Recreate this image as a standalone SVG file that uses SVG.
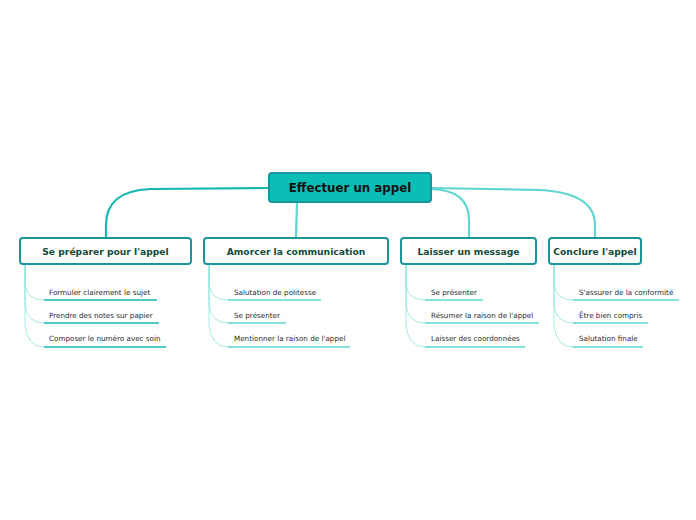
<svg xmlns="http://www.w3.org/2000/svg" width="696" height="520" viewBox="0 0 696 520">
<style>
.root{fill:#0bbdb5;stroke:#1a959b;stroke-width:2}
.main{fill:#fff;stroke:#1a959b;stroke-width:2}
.rt{font-family:"DejaVu Sans",sans-serif;font-weight:bold;font-size:11.8px;fill:#111;text-anchor:middle}
.mt{font-family:"DejaVu Sans",sans-serif;font-weight:bold;font-size:9.2px;fill:#134a3c;text-anchor:middle}
.ct{font-family:"DejaVu Sans",sans-serif;font-size:7.2px;fill:#2a2a2a}
.c1{fill:none;stroke:#16b8b0;stroke-width:2.2}
.c2{fill:none;stroke:#5fd6d0;stroke-width:2.2}
.br{fill:none;stroke:#7fdfda;stroke-width:0.7}
.u1{fill:none;stroke:#16b8b0;stroke-width:1.5}
.u2{fill:none;stroke:#5fd6d0;stroke-width:1.5}
</style>
<g id="connectors">
<path class="c1" d="M269,188 L150,189 Q106,191 106,225 L106,238"/>
<path class="c2" d="M297,202 L296,238"/>
<path class="c2" d="M431,189 Q469,190 469,220 L469,238"/>
<path class="c2" d="M431,188 L540,190 Q595,193 595,225 L595,238"/>
<path class="br" d="M25,264 L25,285 Q27,300 44,300 M25,264 L25,305 Q27,323 44,323 M25,264 L25,325 Q27,347 44,347"/>
<path class="br" d="M209,264 L209,285 Q211,300 228,300 M209,264 L209,305 Q211,323 228,323 M209,264 L209,325 Q211,347 228,347"/>
<path class="br" d="M406,264 L406,285 Q408,300 425,300 M406,264 L406,305 Q408,323 425,323 M406,264 L406,325 Q408,347 425,347"/>
<path class="br" d="M554,264 L554,285 Q556,300 573,300 M554,264 L554,305 Q556,323 573,323 M554,264 L554,325 Q556,347 573,347"/>
<path class="u1" d="M44,300 H157 M44,323 H159 M44,347 H166"/>
<path class="u2" d="M228,300 H321 M228,323 H286 M228,347 H350"/>
<path class="u2" d="M425,300 H483 M425,323 H539 M425,347 H525"/>
<path class="u2" d="M573,300 H679 M573,323 H648 M573,347 H643"/>
</g>
<g id="root">
<rect class="root" x="269" y="173" width="162" height="29" rx="3"/>
<text class="rt" x="350" y="192">Effectuer un appel</text>
</g>
<g id="n1">
<rect class="main" x="20" y="238" width="171" height="26" rx="3"/>
<text class="mt" x="105.5" y="254.5">Se préparer pour l'appel</text>
</g>
<g id="n2">
<rect class="main" x="204" y="238" width="184" height="26" rx="3"/>
<text class="mt" x="296" y="254.5">Amorcer la communication</text>
</g>
<g id="n3">
<rect class="main" x="401" y="238" width="135" height="26" rx="3"/>
<text class="mt" x="468.5" y="254.5">Laisser un message</text>
</g>
<g id="n4">
<rect class="main" x="549" y="238" width="92" height="26" rx="3"/>
<text class="mt" x="595" y="254.5">Conclure l'appel</text>
</g>
<g id="n1c">
<text class="ct" x="49" y="295">Formuler clairement le sujet</text>
<text class="ct" x="49" y="318">Prendre des notes sur papier</text>
<text class="ct" x="49" y="341">Composer le numéro avec soin</text>
</g>
<g id="n2c">
<text class="ct" x="234" y="295">Salutation de politesse</text>
<text class="ct" x="234" y="318">Se présenter</text>
<text class="ct" x="234" y="341">Mentionner la raison de l'appel</text>
</g>
<g id="n3c">
<text class="ct" x="431" y="295">Se présenter</text>
<text class="ct" x="431" y="318">Résumer la raison de l'appel</text>
<text class="ct" x="431" y="341">Laisser des coordonnées</text>
</g>
<g id="n4c">
<text class="ct" x="579" y="295">S'assurer de la conformité</text>
<text class="ct" x="579" y="318">Être bien compris</text>
<text class="ct" x="579" y="341">Salutation finale</text>
</g>
</svg>
